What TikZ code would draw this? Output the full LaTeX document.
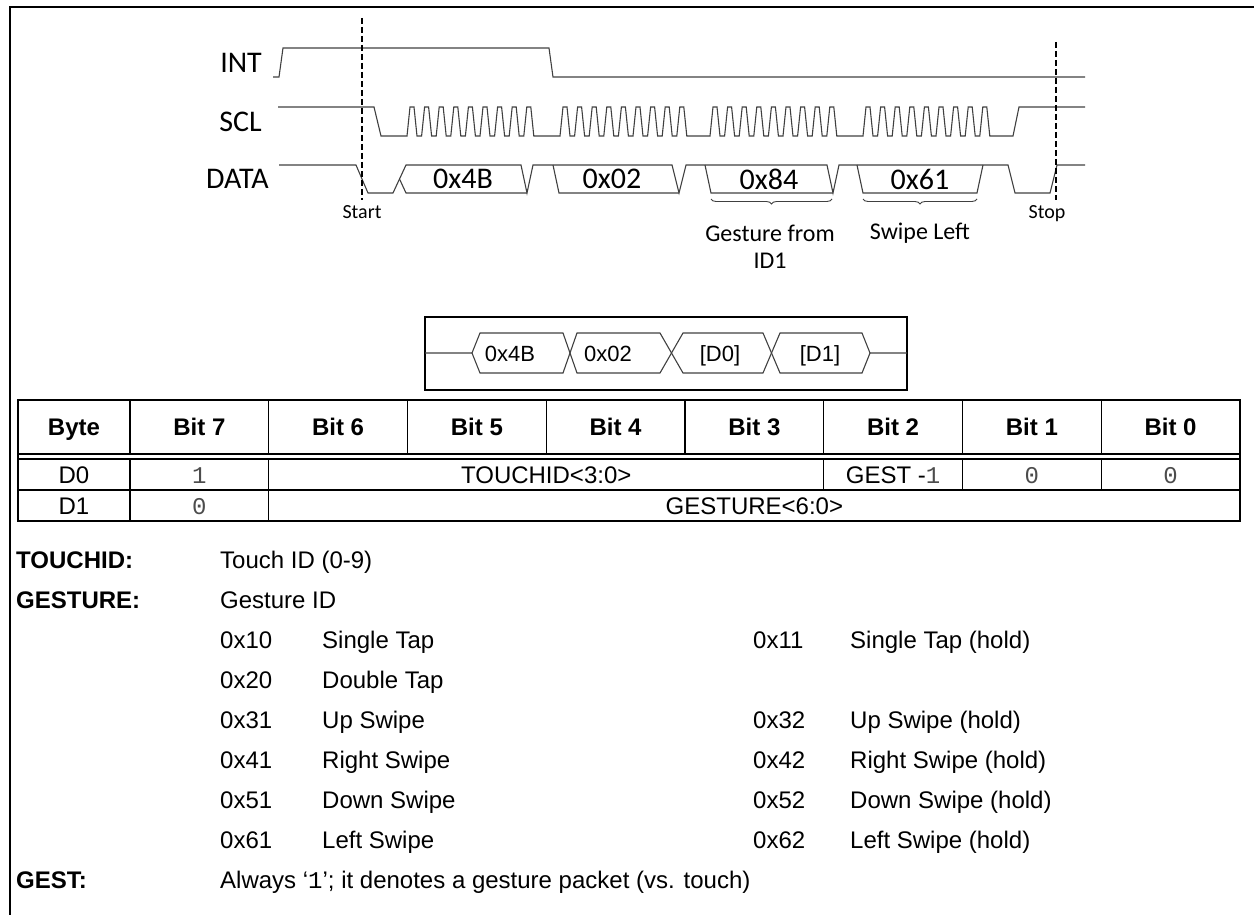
\documentclass[tikz,border=0pt]{standalone}
\usepackage{fontspec}
\setmainfont{Liberation Sans}
\setmonofont{Liberation Mono}
\newfontfamily\calibrifont{Carlito}
\usetikzlibrary{decorations.pathreplacing}

\begin{document}
\begin{tikzpicture}[x=1pt, y=-1pt,
    wave/.style={draw=black!75, line width=1.1pt},
    dashmark/.style={draw=black, line width=1.6pt, dash pattern=on 6pt off 3pt},
    border/.style={draw=black, line width=2pt},
    tabline/.style={draw=black, line width=1.2pt},
    sig/.style={font=\calibrifont\fontsize{30}{32}\selectfont, inner sep=0pt, anchor=east},
    byte/.style={font=\calibrifont\fontsize{30}{32}\selectfont, inner sep=0pt},
    stamp/.style={font=\calibrifont\fontsize{20}{22}\selectfont, inner sep=0pt, anchor=base},
    note/.style={font=\calibrifont\fontsize{24}{27}\selectfont, inner sep=0pt, align=center},
    hextxt/.style={font=\fontsize{22}{26}\selectfont, inner sep=0pt, anchor=base},
    cell/.style={font=\fontsize{24}{28}\selectfont, inner sep=0pt, anchor=base},
    headcell/.style={font=\bfseries\fontsize{24}{28}\selectfont, inner sep=0pt, anchor=base},
    bitval/.style={font=\ttfamily\fontsize{24}{28}\selectfont, text=black!70, inner sep=0pt, anchor=base},
    txt/.style={font=\fontsize{24}{28}\selectfont, inner sep=0pt, anchor=base west},
    field/.style={font=\bfseries\fontsize{24}{28}\selectfont, inner sep=0pt, anchor=base west},
]
\useasboundingbox (0,0) rectangle (1254,915);
\draw[border] (10,915) -- (10,7) -- (1254,7);

% bus waveforms
\node[sig] (int) at (262,62.5) {INT};
\node[sig] (scl) at (262,121.5) {SCL};
\node[sig] (data) at (269,179) {DATA};
\draw[wave] (273,77) -- (279,77) -- (283,48) -- (549,48) -- (553,77) -- (1085,77);
\draw[wave] (278,107) -- (374,107) -- (381,136)
    foreach \g in {407,560,710,863} {foreach \i in {0,...,8} {
      -- ({\g+14.6*\i},136) -- ({\g+14.6*\i+3},107) -- ({\g+14.6*\i+7},107) -- ({\g+14.6*\i+10},136)}}
    -- (1013,136) -- (1019,107) -- (1085,107);
\draw[wave] (279,165) -- (356,165) -- (368,193) -- (393,193) -- (406,165) -- (521,165) -- (527,193) -- (533,165) -- (672,165) -- (679,193) -- (686,165) -- (827,165) -- (833,193) -- (839,165) -- (1008,165) -- (1015,193) -- (1050,193) -- (1057,165) -- (1085,165);
\draw[wave] (399.5,179) -- (406,193) -- (527,193);
\draw[wave] (553,165) -- (559,193) -- (679,193);
\draw[wave] (705,165) -- (711,193) -- (833,193);
\draw[wave] (857,165) -- (863,193) -- (977,193) -- (983,165);
\node[byte] (b1) at (463,179) {0x4B};
\node[byte] (b2) at (612,179) {0x02};
\node[byte] (b3) at (769,179) {0x84};
\node[byte] (b4) at (920,179) {0x61};

\draw[dashmark] (362,18) -- (362,200);
\draw[dashmark] (1056,42) -- (1056,200);
\node[stamp] (start) at (362,218.4) {Start};
\node[stamp] (stop) at (1047,218.4) {Stop};

\draw[wave, line width=0.9pt, decorate, decoration={brace, mirror, amplitude=5pt}] (711,199) -- (832,199);
\draw[wave, line width=0.9pt, decorate, decoration={brace, mirror, amplitude=5pt}] (863,199) -- (977,199);
\node[note] (gid) at (770,246.5) {Gesture from\\ID1};
\node[note] (swl) at (920,233) {Swipe Left};

% packet summary
\draw[border] (425,317) rectangle (907,390);
\draw[wave] (425,353) -- (472,353) -- (480,333) -- (563,333) -- (577,373) -- (660,373) -- (683,333) -- (763,333) -- (780,373) -- (862,373) -- (870,353) -- (907,353);
\draw[wave] (472,353) -- (480,373) -- (563,373) -- (577,333) -- (660,333) -- (683,373) -- (763,373) -- (780,333) -- (862,333) -- (870,353);
\node[hextxt] (p1) at (510,361) {0x4B};
\node[hextxt] (p2) at (608,361) {0x02};
\node[hextxt] (p3) at (720,361) {[D0]};
\node[hextxt] (p4) at (820,361) {[D1]};

% register table
\draw[border] (18,400) rectangle (1240,521);
\draw[tabline] (18,454) -- (1240,454) (18,459) -- (1240,459) (18,490) -- (1240,490);
\draw[tabline] (130,400) -- (130,454) (268.75,400) -- (268.75,454) (407.5,400) -- (407.5,454) (546.25,400) -- (546.25,454)
    (685,400) -- (685,454) (823.75,400) -- (823.75,454) (962.5,400) -- (962.5,454) (1101.25,400) -- (1101.25,454);
\draw[tabline] (130,459) -- (130,521) (268.75,459) -- (268.75,521) (823.75,459) -- (823.75,490) (962.5,459) -- (962.5,490) (1101.25,459) -- (1101.25,490);
\node[headcell] (hbyte) at (74,435.6) {Byte};
\node[headcell] (h7) at (199.4,435.6) {Bit 7};
\node[headcell] (h6) at (338.1,435.6) {Bit 6};
\node[headcell] (h5) at (476.9,435.6) {Bit 5};
\node[headcell] (h4) at (615.6,435.6) {Bit 4};
\node[headcell] (h3) at (754.4,435.6) {Bit 3};
\node[headcell] (h2) at (893.1,435.6) {Bit 2};
\node[headcell] (h1) at (1031.9,435.6) {Bit 1};
\node[headcell] (h0) at (1170.6,435.6) {Bit 0};
\node[cell] (d0) at (74,483) {D0};
\node[bitval] (d0b7) at (199.4,483) {1};
\node[cell] (d0id) at (546.25,483) {TOUCHID<3:0>};
\node[cell] (d0g) at (893.1,483) {GEST -{\ttfamily\color{black!70}1}};
\node[bitval] (d0b1) at (1031.9,483) {0};
\node[bitval] (d0b0) at (1170.6,483) {0};
\node[cell] (d1) at (74,514) {D1};
\node[bitval] (d1b7) at (199.4,514) {0};
\node[cell] (d1g) at (754.4,514) {GESTURE<6:0>};

% field legend
\node[field] (ftouch) at (16,568.6) {TOUCHID:};
\node[txt] (ttouch) at (220,568.6) {Touch ID (0-9)};
\node[field] (fgest) at (16,608.6) {GESTURE:};
\node[txt] (tgest) at (220,608.6) {Gesture ID};
\node[txt] (c10) at (220,648.6) {0x10};   \node[txt] (n10) at (322,648.6) {Single Tap};
\node[txt] (c11) at (753,648.6) {0x11};   \node[txt] (n11) at (850,648.6) {Single Tap (hold)};
\node[txt] (c20) at (220,688.6) {0x20};   \node[txt] (n20) at (322,688.6) {Double Tap};
\node[txt] (c31) at (220,728.6) {0x31};   \node[txt] (n31) at (322,728.6) {Up Swipe};
\node[txt] (c32) at (753,728.6) {0x32};   \node[txt] (n32) at (850,728.6) {Up Swipe (hold)};
\node[txt] (c41) at (220,768.6) {0x41};   \node[txt] (n41) at (322,768.6) {Right Swipe};
\node[txt] (c42) at (753,768.6) {0x42};   \node[txt] (n42) at (850,768.6) {Right Swipe (hold)};
\node[txt] (c51) at (220,808.6) {0x51};   \node[txt] (n51) at (322,808.6) {Down Swipe};
\node[txt] (c52) at (753,808.6) {0x52};   \node[txt] (n52) at (850,808.6) {Down Swipe (hold)};
\node[txt] (c61) at (220,848.6) {0x61};   \node[txt] (n61) at (322,848.6) {Left Swipe};
\node[txt] (c62) at (753,848.6) {0x62};   \node[txt] (n62) at (850,848.6) {Left Swipe (hold)};
\node[field] (fg) at (16,888.6) {GEST:};
\node[txt] (tg) at (220,888.6) {Always ‘{\ttfamily 1}’; it denotes a gesture packet (vs. touch)};
\end{tikzpicture}
\end{document}
